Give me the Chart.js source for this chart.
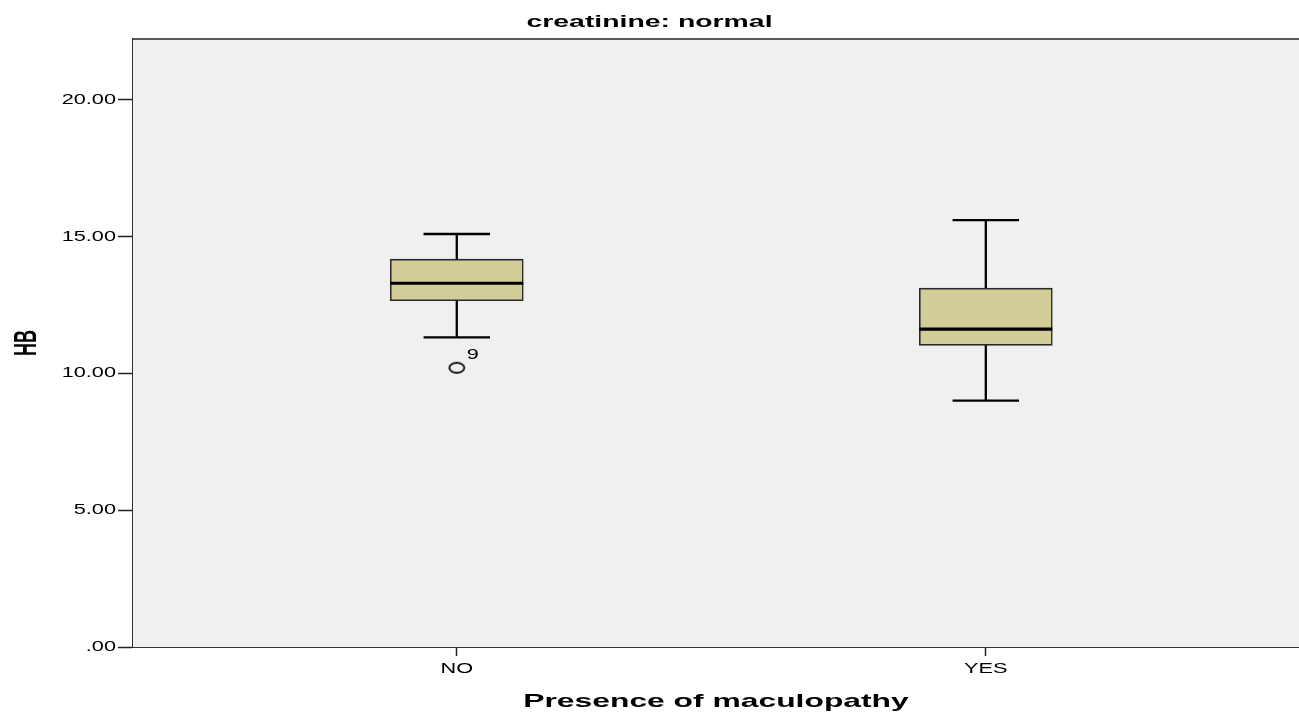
<!DOCTYPE html>
<html>
<head>
<meta charset="utf-8">
<title>HB by presence of maculopathy</title>
<script src="https://cdn.jsdelivr.net/npm/chart.js@4.4.1/dist/chart.umd.min.js"></script>
<style>
  html, body { margin: 0; padding: 0; background: #ffffff; overflow: hidden; }
  #wrap { width: 1299px; height: 713px; position: relative; }
  #chart { display: block; }
</style>
</head>
<body>
<div id="wrap"><canvas id="chart"></canvas></div>
<script>
// Five-number summaries of HB per group (creatinine: normal)
const categories   = ['NO', 'YES'];
const whiskerLow   = [11.32, 9.01];
const quartile1    = [12.66, 11.03];
const medians      = [13.30, 11.62];
const quartile3    = [14.18, 13.12];
const whiskerHigh  = [15.10, 15.61];

// Outlying cases
const outlierGroup = ['NO'];
const outlierValue = [10.21];
const outlierCase  = ['9'];

// Value-axis tick positions
const yTicks = [0, 5, 10, 15, 20];

const FONT = "'Liberation Sans', Arial, sans-serif";
const BOX_FILL = '#D3CE97';
const PLOT_BG = '#F0F0F0';
const TEXT_STRETCH = 1.55;
const BOLD_STRETCH = 1.72;

// Widen all glyphs horizontally (screen space) around their anchor point
const stretchText = {
  id: 'stretchText',
  beforeInit(chart) {
    const ctx = chart.ctx;
    const base = ctx.fillText;
    ctx.fillText = function (text, x, y, maxWidth) {
      const k = /bold/.test(ctx.font) ? BOLD_STRETCH : TEXT_STRETCH;
      const m = ctx.getTransform();
      const p = m.transformPoint(new DOMPoint(x, y));
      ctx.save();
      ctx.setTransform(new DOMMatrix().translate(p.x, p.y).scale(k, 1).translate(-p.x, -p.y).multiply(m));
      if (maxWidth === undefined) base.call(ctx, text, x, y);
      else base.call(ctx, text, x, y, maxWidth);
      ctx.restore();
    };
  }
};

// Plot panel background and its top frame line
const panel = {
  id: 'panel',
  beforeDatasetsDraw(chart) {
    const { ctx, chartArea: a } = chart;
    ctx.save();
    ctx.fillStyle = PLOT_BG;
    ctx.fillRect(a.left, a.top, a.right - a.left, a.bottom - a.top);
    ctx.strokeStyle = '#5a5a5a';
    ctx.lineWidth = 2;
    ctx.beginPath();
    ctx.moveTo(a.left, a.top);
    ctx.lineTo(a.right, a.top);
    ctx.stroke();
    ctx.restore();
  }
};

// Whiskers, caps, medians and case labels for the boxes
const boxParts = {
  id: 'boxParts',
  afterDatasetsDraw(chart) {
    const { ctx } = chart;
    const xs = chart.scales.x, ys = chart.scales.y;
    const boxes = chart.getDatasetMeta(0).data;
    ctx.save();
    ctx.strokeStyle = '#000';
    ctx.lineCap = 'butt';
    categories.forEach((c, i) => {
      const x = xs.getPixelForValue(i + 1);
      const half = boxes[i].width / 2;
      const cap = half / 2;
      const yMin = ys.getPixelForValue(whiskerLow[i]);
      const yQ1 = ys.getPixelForValue(quartile1[i]);
      const yMed = ys.getPixelForValue(medians[i]);
      const yQ3 = ys.getPixelForValue(quartile3[i]);
      const yMax = ys.getPixelForValue(whiskerHigh[i]);
      ctx.lineWidth = 2.3;
      ctx.beginPath();
      ctx.moveTo(x, yQ3); ctx.lineTo(x, yMax);
      ctx.moveTo(x - cap, yMax); ctx.lineTo(x + cap, yMax);
      ctx.moveTo(x, yQ1); ctx.lineTo(x, yMin);
      ctx.moveTo(x - cap, yMin); ctx.lineTo(x + cap, yMin);
      ctx.stroke();
      ctx.lineWidth = 3.2;
      ctx.beginPath();
      ctx.moveTo(x - half, yMed); ctx.lineTo(x + half, yMed);
      ctx.stroke();
    });
    // case numbers beside outliers
    const pts = chart.getDatasetMeta(1).data;
    ctx.fillStyle = '#000';
    ctx.font = '14px ' + FONT;
    ctx.textAlign = 'center';
    ctx.textBaseline = 'middle';
    pts.forEach((p, j) => {
      ctx.fillText(outlierCase[j], p.x + 16, p.y - 13);
    });
    ctx.restore();
  }
};

// Open elliptical marker used for outliers
function ellipseMarker() {
  const c = document.createElement('canvas');
  c.width = 20; c.height = 14;
  const g = c.getContext('2d');
  g.strokeStyle = '#111';
  g.lineWidth = 1.9;
  g.beginPath();
  g.ellipse(10, 7, 7.5, 5, 0, 0, Math.PI * 2);
  g.stroke();
  return c;
}

new Chart(document.getElementById('chart'), {
  type: 'bar',
  data: {
    datasets: [
      {
        label: 'HB',
        data: categories.map((c, i) => ({ x: i + 1, y: [quartile1[i], quartile3[i]] })),
        backgroundColor: BOX_FILL,
        borderColor: '#2a2a2a',
        borderWidth: 1.6,
        borderSkipped: false,
        barThickness: 133
      },
      {
        type: 'scatter',
        label: 'outliers',
        data: outlierValue.map((v, j) => ({ x: categories.indexOf(outlierGroup[j]) + 1, y: v })),
        pointStyle: ellipseMarker(),
        showLine: false
      }
    ]
  },
  options: {
    responsive: true,
    maintainAspectRatio: false,
    animation: false,
    devicePixelRatio: 1,
    layout: { autoPadding: false, padding: 0 },
    plugins: {
      legend: { display: false },
      tooltip: { enabled: false },
      title: {
        display: true,
        text: 'creatinine: normal',
        color: '#000',
        font: { family: FONT, size: 16.5, weight: 'bold' },
        padding: { top: 12.5, bottom: 6.7 }
      }
    },
    scales: {
      x: {
        type: 'linear',
        min: 0.388,
        max: 2.592,
        offset: false,
        afterBuildTicks(scale) {
          scale.ticks = categories.map((c, i) => ({ value: i + 1 }));
        },
        afterFit(scale) {
          scale.height = 66;
          scale.paddingLeft = 0;
          scale.paddingRight = 0;
        },
        ticks: {
          callback: (v) => categories[v - 1],
          color: '#000',
          font: { family: FONT, size: 14 },
          padding: 5,
          maxRotation: 0,
          autoSkip: false
        },
        grid: {
          display: true,
          drawOnChartArea: false,
          drawTicks: true,
          tickLength: 9,
          tickWidth: 1.5,
          tickColor: '#222',
          offset: false
        },
        border: { display: true, color: '#333', width: 2 },
        title: {
          display: true,
          text: 'Presence of maculopathy',
          color: '#000',
          font: { family: FONT, size: 18.5, weight: 'bold' },
          padding: { top: 0, bottom: 0 }
        }
      },
      y: {
        type: 'linear',
        min: 0,
        max: 22.23,
        afterBuildTicks(scale) {
          scale.ticks = yTicks.map(v => ({ value: v }));
        },
        afterFit(scale) { scale.width = 133; },
        ticks: {
          callback: (v) => v.toFixed(2).replace(/^0\./, '.'),
          color: '#000',
          font: { family: FONT, size: 14 },
          padding: 2
        },
        grid: {
          display: true,
          drawOnChartArea: false,
          drawTicks: true,
          tickLength: 15,
          tickWidth: 1.5,
          tickColor: '#222'
        },
        border: { display: true, color: '#333', width: 2.5 },
        title: {
          display: true,
          text: 'HB',
          color: '#000',
          font: { family: FONT, size: 18, weight: 'bold' },
          padding: { top: 17, bottom: 0 }
        }
      }
    }
  },
  plugins: [stretchText, panel, boxParts]
});
</script>
</body>
</html>
